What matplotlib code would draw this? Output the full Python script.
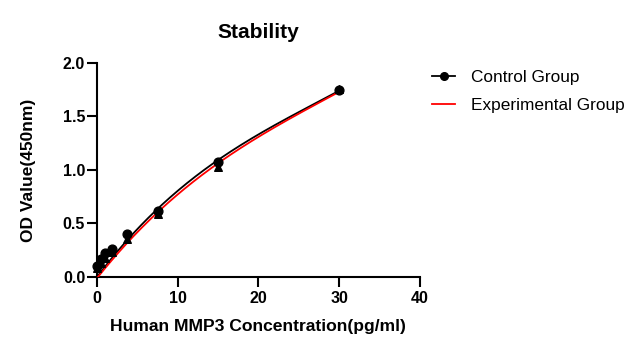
import numpy as np
import matplotlib
matplotlib.use("Agg")
import matplotlib.pyplot as plt

plt.rcParams['font.family'] = ['Liberation Sans', 'DejaVu Sans']

# concentrations (pg/ml)
conc = [0, 0.47, 0.94, 1.88, 3.75, 7.5, 15, 30]
control_od = [0.10, 0.17, 0.22, 0.26, 0.40, 0.62, 1.07, 1.75]
experimental_od = [0.08, 0.13, 0.18, 0.23, 0.35, 0.59, 1.03, 1.76]

# fitted curves
curve_x = [0, 3.75, 7.5, 15, 22.5, 30]
control_curve = [0.00, 0.34, 0.64, 1.09, 1.44, 1.74]
experimental_curve = [-0.01, 0.31, 0.61, 1.06, 1.42, 1.73]

fig = plt.figure(figsize=(6.38, 3.5), dpi=100)
ax = fig.add_axes([0.152, 0.209, 0.506, 0.611])

xs = np.linspace(0, 30, 200)
ctrl_fit = np.polyval(np.polyfit(curve_x, control_curve, 3), xs)
exp_fit = np.polyval(np.polyfit(curve_x, experimental_curve, 3), xs)

ax.plot(xs, ctrl_fit, color="black", linewidth=1.3, zorder=3, clip_on=False)
ax.plot(xs, exp_fit, color="red", linewidth=1.3, zorder=4)
ax.scatter(conc, experimental_od, marker="^", color="black", s=30, zorder=5, clip_on=False)
ax.scatter(conc, control_od, marker="o", color="black", s=40, zorder=6, clip_on=False)

# legend handles
ax.plot([], [], color="black", marker="o", markersize=5.5, linewidth=1.3, label="Control Group")
ax.plot([], [], color="red", linewidth=1.3, label="Experimental Group")
ax.legend(loc="upper left", bbox_to_anchor=(0.99, 1.04), frameon=False,
          fontsize=12.4, handlelength=1.35, handletextpad=0.9, labelspacing=0.75)

ax.set_xlim(0, 40)
ax.set_ylim(0, 2.0)
ax.set_xticks([0, 10, 20, 30, 40])
ax.set_yticks([0.0, 0.5, 1.0, 1.5, 2.0])
ax.set_yticklabels(["0.0", "0.5", "1.0", "1.5", "2.0"])
for lbl in ax.get_xticklabels() + ax.get_yticklabels():
    lbl.set_fontweight("bold")
ax.tick_params(labelsize=11.5, width=1.5, length=7, pad=1.5, direction="out")
ax.tick_params(axis="x", pad=3.5)
ax.spines["top"].set_visible(False)
ax.spines["right"].set_visible(False)
ax.spines["left"].set_linewidth(1.5)
ax.spines["bottom"].set_linewidth(1.5)

ax.set_xlabel("Human MMP3 Concentration(pg/ml)", fontsize=12.6, fontweight="bold", labelpad=9)
ax.set_ylabel("OD Value(450nm)", fontsize=12.5, fontweight="bold", labelpad=19)
ax.set_title("Stability", fontsize=15, fontweight="bold", pad=18)

fig.savefig("out.png", dpi=100)
